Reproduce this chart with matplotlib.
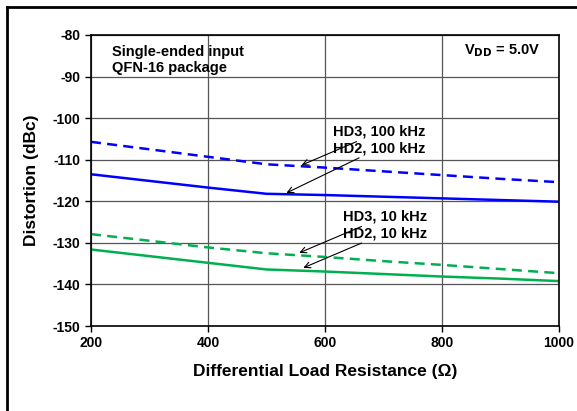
import matplotlib
matplotlib.use("Agg")
import matplotlib.pyplot as plt
from matplotlib.lines import Line2D

plt.rcParams['font.family'] = ['Liberation Sans', 'DejaVu Sans']
plt.rcParams['font.weight'] = 'bold'
plt.rcParams['axes.unicode_minus'] = False

# load resistance (ohm)
r_load = [200, 300, 400, 500, 600, 700, 800, 900, 1000]

# distortion (dBc)
hd3_100k = [-105.7, -107.5, -109.3, -111.1, -111.9, -112.8, -113.7, -114.6, -115.4]
hd2_100k = [-113.5, -115.1, -116.7, -118.2, -118.5, -118.9, -119.3, -119.7, -120.1]
hd3_10k = [-127.9, -129.5, -131.1, -132.5, -133.4, -134.4, -135.3, -136.3, -137.3]
hd2_10k = [-131.6, -133.2, -134.8, -136.4, -136.9, -137.5, -138.1, -138.6, -139.2]

x_ticks = [200, 400, 600, 800, 1000]
y_ticks = [-150, -140, -130, -120, -110, -100, -90, -80]

blue = '#0000FF'
green = '#00B050'

fig = plt.figure(figsize=(5.77, 4.11), dpi=100)
ax = fig.add_axes([91 / 577, 1 - 326 / 411, (559 - 91) / 577, (326 - 35) / 411])

ax.plot(r_load, hd3_100k, color=blue, lw=1.8, ls=(0, (4, 2.5)))
ax.plot(r_load, hd2_100k, color=blue, lw=1.8)
ax.plot(r_load, hd3_10k, color=green, lw=1.8, ls=(0, (4, 2.5)))
ax.plot(r_load, hd2_10k, color=green, lw=1.8)

ax.set_xlim(200, 1000)
ax.set_ylim(-150, -80)
ax.set_xticks(x_ticks)
ax.set_yticks(y_ticks)
ax.tick_params(labelsize=10, length=4, width=1, direction='out')
for lbl in ax.get_xticklabels() + ax.get_yticklabels():
    lbl.set_fontweight('bold')
ax.grid(True, color='#555555', lw=0.9)
ax.set_axisbelow(True)
for s in ax.spines.values():
    s.set_linewidth(1.2)

ax.set_xlabel('Differential Load Resistance (Ω)', fontsize=12.5, fontweight='bold', labelpad=10)
ax.set_ylabel('Distortion (dBc)', fontsize=12.5, fontweight='bold', labelpad=10)

ax.text(0.045, 0.965, 'Single-ended input\nQFN-16 package', transform=ax.transAxes,
        fontsize=10.5, fontweight='bold', va='top', ha='left', linespacing=1.15)
ax.text(0.96, 0.975, r'V$_{\mathbf{DD}}$ = 5.0V', transform=ax.transAxes,
        fontsize=10.5, fontweight='bold', va='top', ha='right')

arrow = dict(arrowstyle='->', color='black', lw=0.8, shrinkA=0, shrinkB=0)
ax.annotate('HD3, 100 kHz', xy=(560, -111.3), xytext=(614, -103.3),
            fontsize=10.5, fontweight='bold', va='center', ha='left', arrowprops=arrow)
ax.annotate('HD2, 100 kHz', xy=(534, -118.0), xytext=(614, -107.2),
            fontsize=10.5, fontweight='bold', va='center', ha='left', arrowprops=arrow)
ax.annotate('HD3, 10 kHz', xy=(556, -132.4), xytext=(630, -123.7),
            fontsize=10.5, fontweight='bold', va='center', ha='left', arrowprops=arrow)
ax.annotate('HD2, 10 kHz', xy=(563, -136.0), xytext=(630, -127.7),
            fontsize=10.5, fontweight='bold', va='center', ha='left', arrowprops=arrow)

# outer frame (top and left edges only)
fig.add_artist(Line2D([7 / 577, 7 / 577], [0, 1 - 7 / 411], color='black', lw=2, transform=fig.transFigure))
fig.add_artist(Line2D([7 / 577, 1], [1 - 7 / 411, 1 - 7 / 411], color='black', lw=2, transform=fig.transFigure))

fig.savefig('out.png', dpi=100)
